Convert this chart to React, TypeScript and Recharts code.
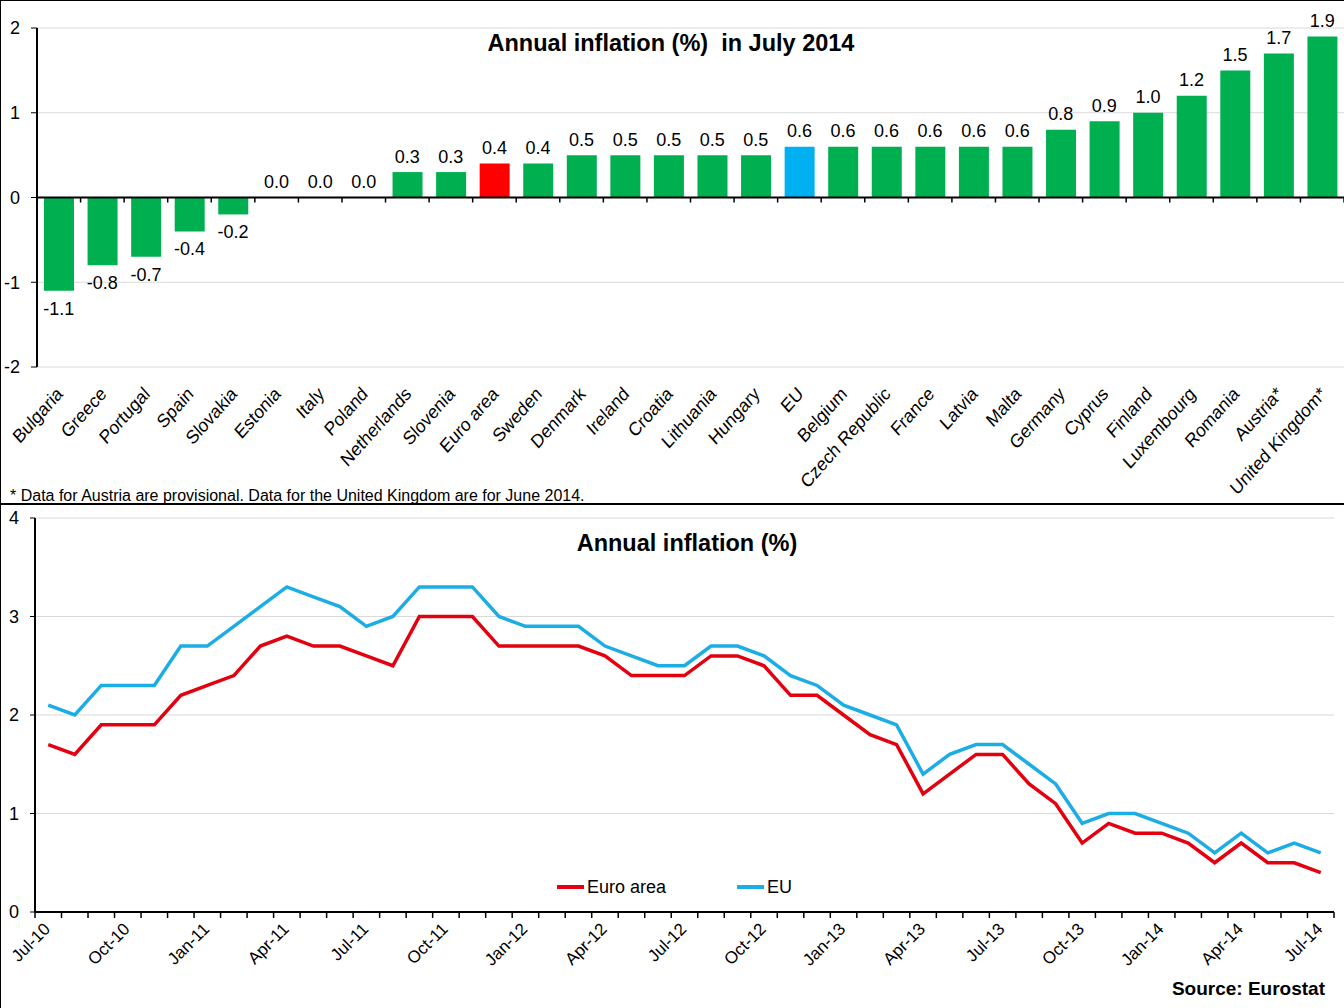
import {
  ComposedChart,
  Bar,
  Cell,
  LabelList,
  LineChart,
  Line,
  XAxis,
  YAxis,
  CartesianGrid,
  ReferenceLine,
  Legend,
} from "recharts";

// bar chart: annual inflation in July 2014, sorted
const countries = [
  "Bulgaria", "Greece", "Portugal", "Spain", "Slovakia", "Estonia", "Italy", "Poland",
  "Netherlands", "Slovenia", "Euro area", "Sweden", "Denmark", "Ireland", "Croatia",
  "Lithuania", "Hungary", "EU", "Belgium", "Czech Republic", "France", "Latvia", "Malta",
  "Germany", "Cyprus", "Finland", "Luxembourg", "Romania", "Austria*", "United Kingdom*",
];
const julyRates = [
  -1.1, -0.8, -0.7, -0.4, -0.2, 0.0, 0.0, 0.0, 0.3, 0.3, 0.4, 0.4, 0.5, 0.5, 0.5,
  0.5, 0.5, 0.6, 0.6, 0.6, 0.6, 0.6, 0.6, 0.8, 0.9, 1.0, 1.2, 1.5, 1.7, 1.9,
];
const barTicks = [-2, -1, 0, 1, 2];

// line chart: monthly annual rates Jul-10 .. Jul-14
const months = [
  "Jul-10", "Aug-10", "Sep-10", "Oct-10", "Nov-10", "Dec-10",
  "Jan-11", "Feb-11", "Mar-11", "Apr-11", "May-11", "Jun-11", "Jul-11", "Aug-11", "Sep-11", "Oct-11", "Nov-11", "Dec-11",
  "Jan-12", "Feb-12", "Mar-12", "Apr-12", "May-12", "Jun-12", "Jul-12", "Aug-12", "Sep-12", "Oct-12", "Nov-12", "Dec-12",
  "Jan-13", "Feb-13", "Mar-13", "Apr-13", "May-13", "Jun-13", "Jul-13", "Aug-13", "Sep-13", "Oct-13", "Nov-13", "Dec-13",
  "Jan-14", "Feb-14", "Mar-14", "Apr-14", "May-14", "Jun-14", "Jul-14",
];
const euroAreaRates = [
  1.7, 1.6, 1.9, 1.9, 1.9, 2.2,
  2.3, 2.4, 2.7, 2.8, 2.7, 2.7, 2.6, 2.5, 3.0, 3.0, 3.0, 2.7,
  2.7, 2.7, 2.7, 2.6, 2.4, 2.4, 2.4, 2.6, 2.6, 2.5, 2.2, 2.2,
  2.0, 1.8, 1.7, 1.2, 1.4, 1.6, 1.6, 1.3, 1.1, 0.7, 0.9, 0.8,
  0.8, 0.7, 0.5, 0.7, 0.5, 0.5, 0.4,
];
const euRates = [
  2.1, 2.0, 2.3, 2.3, 2.3, 2.7,
  2.7, 2.9, 3.1, 3.3, 3.2, 3.1, 2.9, 3.0, 3.3, 3.3, 3.3, 3.0,
  2.9, 2.9, 2.9, 2.7, 2.6, 2.5, 2.5, 2.7, 2.7, 2.6, 2.4, 2.3,
  2.1, 2.0, 1.9, 1.4, 1.6, 1.7, 1.7, 1.5, 1.3, 0.9, 1.0, 1.0,
  0.9, 0.8, 0.6, 0.8, 0.6, 0.7, 0.6,
];
const lineTicks = [0, 1, 2, 3, 4];
const legendOrder = ["Euro area", "EU"];

const barData = countries.map((country, i) => ({ country, value: julyRates[i] }));
const lineData = months.map((month, i) => ({
  month,
  euroArea: euroAreaRates[i],
  eu: euRates[i],
}));

const FONT = '"Liberation Sans", Arial, sans-serif';
const GREEN = "#00B050";
const RED_BAR = "#FF0000";
const BLUE_BAR = "#00B0F0";
const RED_LINE = "#E3000F";
const BLUE_LINE = "#1BADE3";

function barColor(name: string) {
  if (name === "Euro area") return RED_BAR;
  if (name === "EU") return BLUE_BAR;
  return GREEN;
}

// black base line with small tick marks at every category boundary
function axisWithTicks(count: number, tickLen: number) {
  return (props: any) => {
    const { x1, x2, y1 } = props;
    const step = (x2 - x1) / count;
    return (
      <g>
        <line x1={x1} x2={x2} y1={y1} y2={y1} stroke="#000" strokeWidth={2} />
        {Array.from({ length: count + 1 }, (_, i) => (
          <line
            key={i}
            x1={x1 + i * step}
            x2={x1 + i * step}
            y1={y1}
            y2={y1 + tickLen}
            stroke="#000"
            strokeWidth={1.5}
          />
        ))}
      </g>
    );
  };
}

function CountryTick({ x, y, payload }: any) {
  const ax = x + 5;
  const ay = y + 20;
  return (
    <text
      x={0}
      y={0}
      textAnchor="end"
      fontSize={17}
      fill="#000"
      transform={`translate(${ax} ${ay}) scale(1 1.12) rotate(-45)`}
    >
      {payload.value}
    </text>
  );
}

function MonthTick({ x, y, payload }: any) {
  const ax = x + 3;
  const ay = y + 10;
  return (
    <text
      x={ax}
      y={ay}
      textAnchor="end"
      fontSize={17}
      fill="#000"
      transform={`rotate(-45 ${ax} ${ay})`}
    >
      {payload.value}
    </text>
  );
}

// value label, above the bar end for >= 0 and below it for < 0
function ValueLabel(props: any) {
  const { x, y, value } = props;
  const w = props.width || 0;
  const h = props.height || 0;
  const top = Math.min(y, y + h);
  const bottom = Math.max(y, y + h);
  const cx = x + w / 2;
  const text = Number(value).toFixed(1);
  if (value < 0) {
    return (
      <text x={cx} y={bottom + 11} dy="0.72em" textAnchor="middle" fontSize={18} fill="#000">
        {text}
      </text>
    );
  }
  return (
    <text x={cx} y={top - 9.5} textAnchor="middle" fontSize={18} fill="#000">
      {text}
    </text>
  );
}

function LineLegend({ payload }: any) {
  const items = [...(payload || [])].sort(
    (a: any, b: any) => legendOrder.indexOf(a.value) - legendOrder.indexOf(b.value)
  );
  return (
    <div style={{ display: "flex", alignItems: "center", fontSize: 18, lineHeight: "18px" }}>
      {items.map((p: any, i: number) => (
        <div
          key={p.value}
          style={{ display: "flex", alignItems: "center", marginRight: i === 0 ? 71 : 0 }}
        >
          <svg width={27} height={6}>
            <line x1={0} x2={27} y1={3} y2={3} stroke={p.color} strokeWidth={4} />
          </svg>
          <span style={{ marginLeft: 3 }}>{p.value}</span>
        </div>
      ))}
    </div>
  );
}

export default function App() {
  return (
    <div
      style={{
        position: "absolute",
        left: 0,
        top: 0,
        width: 1344,
        height: 1008,
        background: "#fff",
        fontFamily: FONT,
        color: "#000",
        overflow: "hidden",
      }}
    >
      {/* frames */}
      <div
        style={{
          position: "absolute",
          left: 0,
          top: 0,
          width: 1344,
          height: 1008,
          borderLeft: "1px solid #000",
          borderTop: "1px solid #000",
          boxSizing: "border-box",
        }}
      />
      <div style={{ position: "absolute", left: 0, top: 503, width: 1344, height: 2, background: "#000" }} />

      {/* top chart */}
      <div style={{ position: "absolute", left: 0, top: 0 }}>
        <ComposedChart
          width={1344}
          height={504}
          data={barData}
          margin={{ top: 28, right: 0, bottom: 0, left: 0 }}
        >
          <CartesianGrid vertical={false} stroke="#D9D9D9" />
          <XAxis
            dataKey="country"
            interval={0}
            axisLine={false}
            tickLine={false}
            height={137}
            tick={<CountryTick />}
          />
          <YAxis
            domain={[-2, 2]}
            ticks={barTicks}
            width={37}
            stroke="#000"
            axisLine={{ stroke: "#000", strokeWidth: 2 }}
            tickLine={{ stroke: "#000" }}
            tickSize={6}
            tickMargin={11}
            tick={{ fill: "#000", fontSize: 18 }}
          />
          <Bar dataKey="value" barSize={30} isAnimationActive={false}>
            {barData.map((d) => (
              <Cell key={d.country} fill={barColor(d.country)} />
            ))}
          </Bar>
          <ReferenceLine y={0} shape={axisWithTicks(countries.length, 5)} />
          {/* invisible series carrying the value labels, so 0.0 gets a label too */}
          <Line
            dataKey="value"
            stroke="none"
            dot={false}
            activeDot={false}
            legendType="none"
            isAnimationActive={false}
          >
            <LabelList dataKey="value" content={ValueLabel} />
          </Line>
        </ComposedChart>
      </div>
      <div
        style={{
          position: "absolute",
          left: 0,
          width: 1342,
          top: 32,
          textAlign: "center",
          fontWeight: "bold",
          fontSize: 23.5,
          lineHeight: "23.5px",
          whiteSpace: "pre",
        }}
      >
        {"Annual inflation (%)  in July 2014"}
      </div>
      <div
        style={{
          position: "absolute",
          left: 10,
          top: 487.5,
          fontSize: 16,
          lineHeight: "16px",
          whiteSpace: "nowrap",
        }}
      >
        * Data for Austria are provisional. Data for the United Kingdom are for June 2014.
      </div>

      {/* bottom chart */}
      <div style={{ position: "absolute", left: 0, top: 504 }}>
        <LineChart
          width={1344}
          height={504}
          data={lineData}
          margin={{ top: 14, right: 10, bottom: 0, left: 0 }}
        >
          <CartesianGrid vertical={false} stroke="#D9D9D9" />
          <XAxis
            dataKey="month"
            scale="band"
            interval={2}
            axisLine={false}
            tickLine={false}
            height={96}
            tick={<MonthTick />}
          />
          <YAxis
            domain={[0, 4]}
            ticks={lineTicks}
            width={35}
            stroke="#000"
            axisLine={{ stroke: "#000", strokeWidth: 2 }}
            tickLine={{ stroke: "#000" }}
            tickSize={5}
            tickMargin={11}
            tick={{ fill: "#000", fontSize: 18 }}
          />
          <Line
            type="linear"
            dataKey="euroArea"
            name="Euro area"
            stroke={RED_LINE}
            strokeWidth={3.5}
            dot={false}
            isAnimationActive={false}
          />
          <Line
            type="linear"
            dataKey="eu"
            name="EU"
            stroke={BLUE_LINE}
            strokeWidth={3.5}
            dot={false}
            isAnimationActive={false}
          />
          <ReferenceLine y={0} shape={axisWithTicks(months.length, 6)} />
          <Legend
            layout="horizontal"
            verticalAlign="middle"
            align="center"
            content={<LineLegend />}
            wrapperStyle={{ left: 557, top: 374, width: "auto" }}
          />
        </LineChart>
      </div>
      <div
        style={{
          position: "absolute",
          left: 687,
          top: 532,
          transform: "translateX(-50%)",
          fontWeight: "bold",
          fontSize: 23.5,
          lineHeight: "23.5px",
          whiteSpace: "nowrap",
        }}
      >
        Annual inflation (%)
      </div>
      <div
        style={{
          position: "absolute",
          right: 19,
          top: 979,
          fontWeight: "bold",
          fontSize: 19,
          lineHeight: "19px",
          whiteSpace: "nowrap",
        }}
      >
        Source: Eurostat
      </div>
    </div>
  );
}
